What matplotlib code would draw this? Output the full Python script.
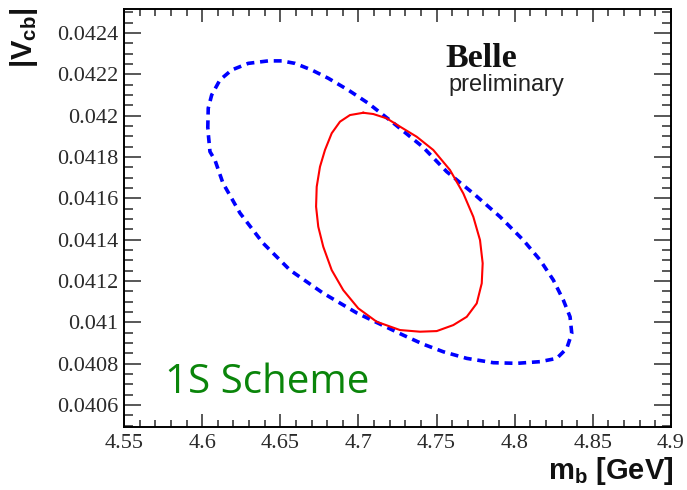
import matplotlib
matplotlib.use("Agg")
import matplotlib.pyplot as plt
from matplotlib.ticker import MultipleLocator

# contour points (m_b [GeV], |Vcb|), clockwise
outer_mb = [4.6036, 4.6039, 4.6061, 4.6114, 4.6189, 4.6295, 4.6423, 4.6509,
            4.6594, 4.6701, 4.6807, 4.6935, 4.7063, 4.7213, 4.7413, 4.7565,
            4.7735, 4.7906, 4.8055, 4.8162, 4.8247, 4.8311, 4.8354, 4.8365,
            4.8333, 4.8269, 4.8162, 4.8013, 4.7863, 4.7693, 4.7543, 4.7413,
            4.7285, 4.6991, 4.6773, 4.6562, 4.6389, 4.6242, 4.6133, 4.6082,
            4.6050]
outer_vcb = [0.041939, 0.042036, 0.042100, 0.042173, 0.042221, 0.042253, 0.042265, 0.042265,
             0.042253, 0.042221, 0.042181, 0.042124, 0.042060, 0.041971, 0.041848, 0.041729,
             0.041624, 0.041511, 0.041398, 0.041302, 0.041205, 0.041108, 0.041027, 0.040947,
             0.040874, 0.040826, 0.040810, 0.040802, 0.040805, 0.040826, 0.040858, 0.040895,
             0.040939, 0.041045, 0.041142, 0.041253, 0.041384, 0.041529, 0.041674, 0.041785,
             0.041826]

inner_mb = [4.7031, 4.7095, 4.7181, 4.7266, 4.7373, 4.7479, 4.7586, 4.7671,
            4.7735, 4.7778, 4.7795, 4.7789, 4.7757, 4.7693, 4.7607, 4.7501,
            4.7394, 4.7266, 4.7117, 4.6999, 4.6903, 4.6829, 4.6775, 4.6743,
            4.6729, 4.6733, 4.6754, 4.6786, 4.6829, 4.6882, 4.6946]
inner_vcb = [0.042014, 0.042008, 0.041987, 0.041947, 0.041898, 0.041834, 0.041737, 0.041624,
             0.041511, 0.041398, 0.041286, 0.041189, 0.041092, 0.041027, 0.040987, 0.040958,
             0.040955, 0.040963, 0.041003, 0.041068, 0.041156, 0.041253, 0.041366, 0.041463,
             0.041560, 0.041656, 0.041753, 0.041834, 0.041915, 0.041971, 0.042003]

plt.rcParams["mathtext.fontset"] = "custom"
plt.rcParams["mathtext.rm"] = "Liberation Sans"
plt.rcParams["mathtext.bf"] = "Liberation Sans:bold"

fig = plt.figure(figsize=(6.87, 4.90), dpi=100)
ax = fig.add_axes([124 / 687, 1 - 427 / 490, 547 / 687, 418 / 490])

ax.plot(outer_mb + outer_mb[:1], outer_vcb + outer_vcb[:1], color="#0000ff",
        linewidth=2.6, linestyle=(0, (2.2, 1.6)), solid_joinstyle="round")
ax.plot(inner_mb + inner_mb[:1], inner_vcb + inner_vcb[:1], color="#ff0000",
        linewidth=1.5, solid_joinstyle="round")

ax.set_xlim(4.55, 4.9)
ax.set_ylim(0.040494, 0.042516)
ax.xaxis.set_major_locator(MultipleLocator(0.05))
ax.xaxis.set_minor_locator(MultipleLocator(0.01))
ax.yaxis.set_major_locator(MultipleLocator(0.0002))
ax.yaxis.set_minor_locator(MultipleLocator(0.00005))
ax.xaxis.set_major_formatter(plt.FuncFormatter(lambda v, p: f"{v:.2f}".rstrip("0").rstrip(".")))
ax.yaxis.set_major_formatter(plt.FuncFormatter(lambda v, p: f"{v:.4f}".rstrip("0")))

for s in ax.spines.values():
    s.set_linewidth(1.4)
ax.tick_params(which="both", direction="in", top=True, right=True, width=1.1,
               labelfontfamily="Liberation Serif", labelsize=16, colors="#2a2a2a")
ax.tick_params(axis="y", which="major", length=12.5, pad=4)
ax.tick_params(axis="y", which="minor", length=6.5)
ax.tick_params(axis="x", which="major", length=9.5, pad=5)
ax.tick_params(axis="x", which="minor", length=5)

ax.text(0.587, 0.862, "Belle", transform=ax.transAxes, family="Liberation Serif",
        fontweight="bold", fontsize=24.5, va="baseline", ha="left", color="#111111")
ax.text(0.594, 0.804, "preliminary", transform=ax.transAxes, family="Liberation Sans",
        fontsize=17, va="baseline", ha="left", color="#222222")
ax.text(0.075, 0.081, "1S Scheme", transform=ax.transAxes, family="Open Sans",
        fontsize=29, va="baseline", ha="left", color="#0a850a")

fig.text(24 / 687, 1 - 8 / 490, r"$\mathbf{|V_{cb}|}$", rotation=90, ha="center", va="top",
         fontsize=21, color="#111111")
fig.text(673 / 687, 1 - 479 / 490, r"$\mathbf{m_{b}}$ [GeV]", ha="right", va="baseline",
         fontsize=21, fontweight="bold", family="Liberation Sans", color="#111111")

fig.savefig("out.png", dpi=100)
